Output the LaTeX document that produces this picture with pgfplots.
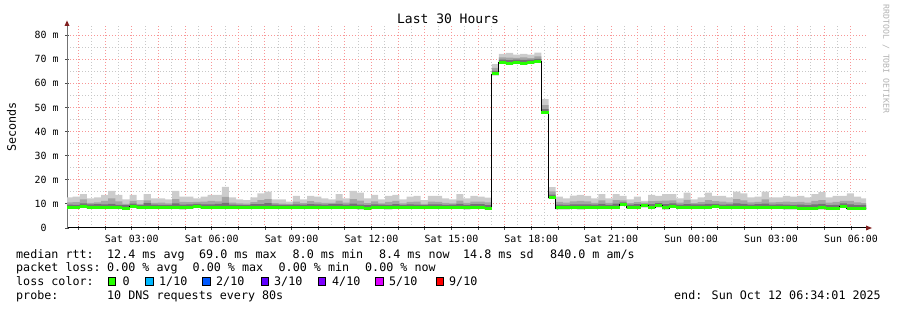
\documentclass[border=0pt]{standalone}
\usepackage{fontspec}
\setmainfont{DejaVu Sans Mono}
\usepackage{pgfplots}
\usepackage{pgfplotstable}
\pgfplotsset{compat=1.18}
\usepgfplotslibrary{fillbetween}
\definecolor{lossA}{RGB}{38,255,0}
\definecolor{lossB}{RGB}{0,184,255}
\definecolor{lossC}{RGB}{0,89,255}
\definecolor{lossD}{RGB}{94,0,255}
\definecolor{lossE}{RGB}{126,0,255}
\definecolor{lossF}{RGB}{221,0,255}
\definecolor{lossG}{RGB}{255,0,0}
\definecolor{smokeL}{RGB}{204,204,204}
\definecolor{smokeM}{RGB}{165,165,165}
\definecolor{smokeD}{RGB}{115,115,115}
\definecolor{gridred}{RGB}{248,150,150}
\definecolor{gridgray}{RGB}{200,200,200}
\definecolor{arrowred}{RGB}{128,30,30}

\pgfplotstableread{
i lo m d g t
0 8.0 8.5 9.7 10.6 12.7
1 7.9 8.4 9.6 10.7 13.0
2 8.5 9.0 10.2 11.9 14.1
3 8.0 8.5 9.8 10.4 12.3
4 8.0 8.5 9.9 10.6 12.7
5 7.9 8.4 9.8 11.2 13.7
6 8.0 8.5 10.0 12.3 15.4
7 7.9 8.4 9.6 11.0 13.7
8 7.6 8.1 9.5 10.0 11.9
9 8.4 8.9 10.1 11.3 13.7
10 7.9 8.4 9.5 10.0 11.6
11 8.0 8.5 10.3 11.5 14.1
12 8.0 8.5 9.7 10.4 12.3
13 7.9 8.4 9.6 10.5 12.3
14 8.0 8.5 9.6 10.2 11.9
15 8.0 8.5 10.2 12.0 15.4
16 7.8 8.3 9.7 10.8 13.0
17 8.0 8.5 9.8 10.7 13.0
18 8.4 8.9 10.0 10.8 12.3
19 8.0 8.5 9.8 10.9 13.0
20 7.9 8.4 9.8 11.2 13.7
21 8.0 8.5 10.0 11.0 13.7
22 8.1 8.6 10.4 12.9 17.1
23 8.0 8.5 9.7 10.5 12.7
24 7.9 8.4 9.6 10.2 11.9
25 8.0 8.5 9.5 10.1 11.6
26 8.1 8.6 9.9 10.7 12.7
27 7.9 8.4 9.9 11.6 14.4
28 8.2 8.7 10.3 12.0 15.1
29 8.0 8.5 9.7 10.3 11.9
30 8.0 8.5 9.6 10.1 11.9
31 8.2 8.7 9.6 10.0 10.9
32 7.9 8.4 9.8 10.9 13.3
33 8.1 8.6 9.7 10.3 11.9
34 8.1 8.6 9.9 11.1 13.3
35 8.0 8.5 9.8 10.6 13.0
36 7.9 8.4 9.7 10.4 12.3
37 8.2 8.7 9.9 10.4 11.9
38 8.0 8.5 10.0 11.4 14.1
39 8.0 8.5 9.7 10.5 12.3
40 8.1 8.6 10.1 12.0 15.4
41 7.8 8.3 9.7 11.4 14.7
42 7.7 8.2 9.5 10.3 12.3
43 8.0 8.5 9.8 11.0 13.7
44 8.1 8.6 9.7 10.2 11.9
45 7.8 8.3 9.6 10.8 13.3
46 8.0 8.5 9.9 11.3 13.7
47 8.0 8.5 9.6 10.2 11.9
48 8.1 8.6 9.8 10.8 13.0
49 7.9 8.4 9.7 10.9 13.3
50 8.0 8.5 9.5 10.0 11.6
51 8.0 8.5 9.8 10.9 13.3
52 8.1 8.6 9.8 10.8 13.3
53 7.9 8.4 9.6 10.4 12.3
54 8.0 8.5 9.7 10.2 11.9
55 8.1 8.6 10.0 11.4 14.1
56 7.8 8.3 9.6 10.4 12.3
57 8.1 8.6 9.9 10.9 13.3
58 8.2 8.7 9.9 10.9 13.0
59 7.7 8.2 9.5 10.6 12.6
60 63.4 63.9 65.2 66.4 68.0
61 68.3 68.8 69.9 70.8 72.2
62 67.8 68.3 69.6 70.7 72.6
63 68.2 68.7 69.8 70.6 71.9
64 67.8 68.3 69.7 70.8 72.2
65 68.2 68.7 69.9 70.5 71.9
66 68.5 69.0 70.2 71.2 72.8
67 47.5 48.0 49.3 51.0 53.5
68 12.2 12.7 13.8 15.2 17.0
69 7.8 8.3 9.7 10.8 13.0
70 7.8 8.3 9.6 10.5 12.3
71 7.9 8.4 9.8 11.0 13.4
72 7.8 8.3 9.8 11.2 13.7
73 7.9 8.4 9.8 11.0 13.3
74 7.9 8.4 9.7 10.4 12.3
75 8.0 8.5 10.0 11.5 14.1
76 7.9 8.4 9.6 10.4 12.3
77 8.1 8.6 10.1 11.6 14.1
78 9.2 9.7 10.6 11.5 13.3
79 8.0 8.5 9.7 10.3 11.9
80 8.1 8.6 9.9 10.7 13.0
81 8.7 9.2 10.0 10.5 11.3
82 8.0 8.5 9.9 11.1 13.7
83 8.7 9.2 10.3 11.3 13.3
84 7.8 8.3 9.9 11.4 14.1
85 8.5 9.0 10.2 11.5 14.1
86 8.0 8.5 9.7 10.5 12.3
87 7.9 8.4 9.9 11.7 14.7
88 8.1 8.6 9.8 10.3 11.9
89 8.0 8.5 9.8 10.7 12.7
90 7.9 8.4 10.0 11.6 14.7
91 8.3 8.8 10.0 11.1 13.3
92 7.9 8.4 9.7 10.9 13.3
93 8.0 8.5 9.8 10.6 12.7
94 8.1 8.6 10.2 12.0 15.1
95 8.0 8.5 10.0 11.5 14.4
96 7.9 8.4 9.7 10.6 12.7
97 8.1 8.6 9.9 10.8 13.0
98 8.0 8.5 10.1 11.9 15.1
99 7.9 8.4 9.7 10.6 12.7
100 8.0 8.5 9.8 10.7 12.7
101 7.8 8.3 9.7 10.9 13.3
102 7.8 8.3 9.6 10.7 13.0
103 7.7 8.2 9.7 10.8 13.3
104 7.6 8.1 9.5 10.5 12.7
105 7.7 8.2 9.8 11.2 14.1
106 7.8 8.3 10.0 11.6 14.9
107 7.6 8.1 9.5 10.5 12.7
108 7.7 8.2 9.6 10.8 13.3
109 8.5 9.0 10.2 11.2 13.3
110 7.7 8.2 9.8 11.3 14.4
111 7.6 8.1 9.5 10.6 13.0
112 7.7 8.2 9.6 10.3 12.3
113 7.7 8.2 9.6 10.3 12.3
}\smoke

\newcommand{\lgfont}{\fontsize{11.7}{14}\selectfont}

\begin{document}
\begin{tikzpicture}
\begin{axis}[
  at={(67pt,82pt)}, anchor=south west,
  scale only axis, width=799pt, height=202pt,
  xmin=0.567, xmax=30.567, ymin=0, ymax=83.8,
  axis x line*=bottom, axis y line*=left,
  x axis line style={black, line width=1pt},
  y axis line style={black!55, line width=1pt},
  xtick={1,...,30},
  xticklabels={,,Sat 03:00,,,Sat 06:00,,,Sat 09:00,,,Sat 12:00,,,Sat 15:00,,,Sat 18:00,,,Sat 21:00,,,Sun 00:00,,,Sun 03:00,,,Sun 06:00},
  minor x tick num=1,
  ytick={0,10,...,80},
  yticklabels={0\phantom{~m},10 m,20 m,30 m,40 m,50 m,60 m,70 m,80 m},
  minor y tick num=1,
  grid=both,
  major grid style={draw=gridred, line width=1pt, dash pattern=on 1pt off 2pt},
  minor grid style={draw=gridgray, line width=1pt, dash pattern=on 1pt off 2pt},
  tick align=center, major tick length=4pt, minor tick length=0pt,
  tick style={black!70, line width=0.8pt},
  tick label style={font=\fontsize{9.9}{11}\selectfont},
  xticklabel style={anchor=base, yshift=-13pt},
  yticklabel style={anchor=east, xshift=-3pt},
]
\addplot[draw=none, name path=lo, const plot mark left, forget plot] table[x expr=0.5153+0.266667*\thisrow{i}, y=lo]{\smoke};
\addplot[draw=none, name path=dd, const plot mark left, forget plot] table[x expr=0.5153+0.266667*\thisrow{i}, y=d]{\smoke};
\addplot[draw=none, name path=gg, const plot mark left, forget plot] table[x expr=0.5153+0.266667*\thisrow{i}, y=g]{\smoke};
\addplot[draw=none, name path=tt, const plot mark left, forget plot] table[x expr=0.5153+0.266667*\thisrow{i}, y=t]{\smoke};
\addplot[fill=smokeL, draw=none] fill between[of=lo and tt];
\addplot[fill=smokeM, draw=none] fill between[of=lo and gg];
\addplot[fill=smokeD, draw=none] fill between[of=lo and dd];
\addplot[black, line width=0.9pt, const plot mark left] table[x expr=0.5153+0.266667*\thisrow{i}, y=m]{\smoke};
\addplot[lossA, line width=3pt, jump mark left] table[x expr=0.5153+0.266667*\thisrow{i}, y=m]{\smoke};
\end{axis}
% axis arrows
\fill[arrowred] (866pt,79.5pt) -- (872pt,82pt) -- (866pt,84.5pt) -- cycle;
\fill[arrowred] (64.5pt,284pt) -- (67pt,289.5pt) -- (69.5pt,284pt) -- cycle;
% titles
\node[anchor=base, inner sep=0, font=\fontsize{13}{15}\selectfont] at (448pt,286pt) {Last 30 Hours};
\node[rotate=90, inner sep=0, font=\lgfont] at (11.5pt,183pt) {Seconds};
\node[rotate=-90, inner sep=0, font=\fontsize{8.2}{10}\selectfont, text=black!30] at (886pt,251pt) {RRDTOOL / TOBI OETIKER};
% legend
\begin{scope}[every node/.style={anchor=base west, inner sep=0, font=\lgfont}]
\node at (16pt,51.7pt) {median rtt:};
\node at (107pt,51.7pt) {12.4 ms avg};
\node at (199pt,51.7pt) {69.0 ms max};
\node at (292.5pt,51.7pt) {8.0 ms min};
\node at (379pt,51.7pt) {8.4 ms now};
\node at (463pt,51.7pt) {14.8 ms sd};
\node at (550pt,51.7pt) {840.0 m am/s};
\node at (16pt,38pt) {packet loss:};
\node at (107pt,38pt) {0.00 \% avg};
\node at (192.5pt,38pt) {0.00 \% max};
\node at (278.5pt,38pt) {0.00 \% min};
\node at (365pt,38pt) {0.00 \% now};
\node at (16pt,24.3pt) {loss color:};
\node at (122.5pt,24.3pt) {0};
\node at (159pt,24.3pt) {1/10};
\node at (216pt,24.3pt) {2/10};
\node at (274pt,24.3pt) {3/10};
\node at (332pt,24.3pt) {4/10};
\node at (389pt,24.3pt) {5/10};
\node at (449pt,24.3pt) {9/10};
\node at (16pt,10.7pt) {probe:};
\node at (107pt,10.7pt) {10 DNS requests every 80s};
\end{scope}
\node[anchor=base east, inner sep=0, font=\lgfont] at (881pt,10.7pt) {end: Sun Oct 12 06:34:01 2025};
\foreach \bx/\col in {108.3/lossA,145.7/lossB,202.7/lossC,261/lossD,318.3/lossE,375.7/lossF,436/lossG}{
  \filldraw[fill=\col, draw=black, line width=0.8pt] (\bx pt,25pt) rectangle ++(7.4pt,7.6pt);
}
\pgfresetboundingbox
\useasboundingbox (0,0) rectangle (897pt,310pt);
\end{tikzpicture}
\end{document}
